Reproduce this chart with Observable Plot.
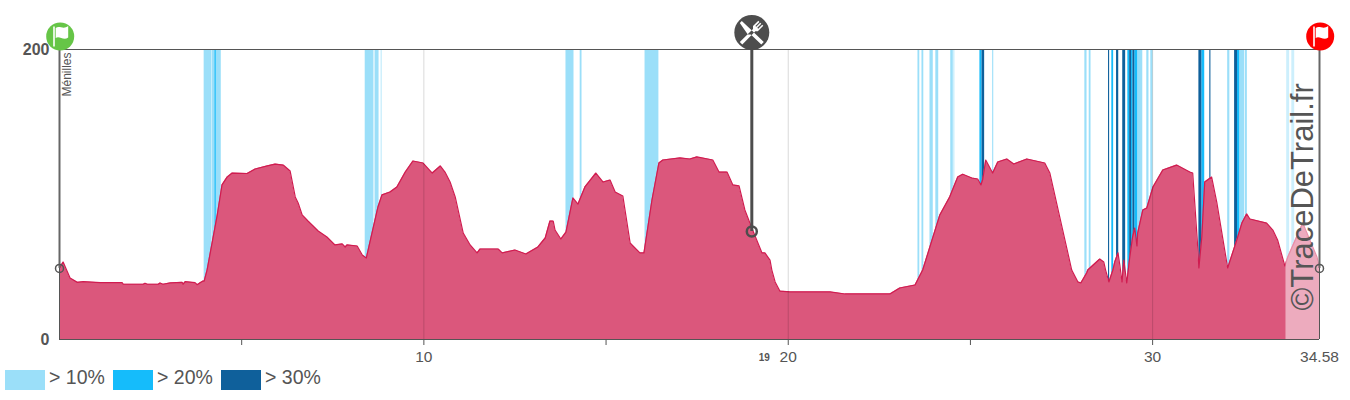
<!DOCTYPE html>
<html>
<head>
<meta charset="utf-8">
<script src="https://cdn.jsdelivr.net/npm/d3@7"></script>
<script src="https://cdn.jsdelivr.net/npm/@observablehq/plot@0.6"></script>
<style>
html,body{margin:0;padding:0;background:#fff;}
#legend{position:relative;height:34px;width:1350px;font:19.5px "Liberation Sans",Arial,sans-serif;color:#555;}
#legend span{position:absolute;white-space:nowrap;}
#legend i{position:absolute;top:4px;width:40px;height:20px;display:block;}
svg{display:block;}
</style>
</head>
<body>
<div id="chart"></div>
<div id="legend"></div>
<script>
const km = [0,0.10,0.29,0.49,0.65,1.12,1.72,1.75,2.30,2.35,2.41,2.71,2.76,2.84,3.04,3.37,3.39,3.45,3.72,3.78,3.86,3.94,3.97,4.05,4.33,4.46,4.60,4.74,5.15,5.37,5.70,5.92,6.14,6.33,6.47,6.55,6.66,6.82,7.10,7.34,7.56,7.76,7.84,7.89,8.17,8.31,8.42,8.74,8.85,9.07,9.26,9.49,9.70,9.98,10.23,10.45,10.58,10.72,10.86,11.08,11.27,11.46,11.54,12.04,12.15,12.50,12.80,13.13,13.33,13.46,13.55,13.60,13.76,13.90,14.09,14.23,14.42,14.72,14.92,15.11,15.25,15.46,15.66,15.74,15.93,16.04,16.26,16.45,16.56,17.03,17.30,17.49,17.93,18.10,18.32,18.48,18.65,18.81,19.00,19.28,19.36,19.50,19.55,19.64,19.77,20.05,21.15,21.56,22.79,23.06,23.48,23.69,24.16,24.43,24.65,24.79,25.04,25.20,25.29,25.34,25.42,25.61,25.75,26.00,26.19,26.55,27.04,27.18,27.45,27.78,27.95,28.03,28.19,28.22,28.55,28.66,28.71,28.80,28.91,28.96,29.05,29.10,29.16,29.21,29.29,29.37,29.42,29.45,29.51,29.57,29.59,29.73,29.84,30.01,30.28,30.66,31.02,31.10,31.24,31.27,31.35,31.43,31.62,31.76,32.06,32.31,32.45,32.58,32.67,33.13,33.30,33.43,33.63,33.71,34.12,34.51,34.58];
const elevation = [49.3,53.4,42.4,39.4,39.9,39.2,39.2,38.1,38.1,38.8,38.1,38.1,39,38.1,39,39.4,38.1,39.9,39.2,37.8,39.2,40.3,40.3,47.9,85.9,106.6,112,114.8,114.5,117.6,119.7,121,120.3,116.2,98.3,94.1,85.9,81.7,74.8,70.7,65.2,65.9,63.8,65.2,64.5,58.3,56.2,91.4,99.7,101.7,105.2,115.5,123.1,121.7,114.8,119.7,115.5,108.6,98.3,73.4,65.2,59.7,62.4,62.4,59.7,61.7,59,63.8,70,81.7,81.7,75.5,69.3,74.1,97.6,93.4,105.2,114.8,108.6,110,101.7,99,66.6,64.5,59.7,59.7,96.2,121.7,123.8,125.2,124.5,125.9,123.8,115.5,115.5,106.6,105.9,89.3,76.9,59.7,59.7,54.8,47.9,39.7,33.4,32.8,32.8,31.4,31.4,35.5,37.6,47.9,85.9,98.3,112,114,111.4,110.7,106.6,110.7,123.8,114.8,122.4,124.5,121,124.5,121.7,114.8,84.5,47.9,39.7,39,45.9,47.9,55.5,53.4,47.9,39.7,47.9,53.4,59.7,51.4,39.7,54.8,39,56.2,65.2,70.7,76.9,64.5,73.4,89.3,90.7,105.2,116.9,120.3,115.5,114.8,63.1,49.3,70.7,108.6,112,94.8,49.3,68.6,80.3,86.6,83.1,80.3,75.5,68.6,50.7,56.9,80.3,56.9,49.3];
const over10 = [[3.97,4.18],[4.19,4.44],[8.39,8.63],[8.66,8.77],[8.83,8.85],[13.90,14.12],[14.29,14.34],[16.07,16.45],[23.56,23.61],[23.67,23.72],[23.89,23.98],[24.05,24.13],[24.46,24.53],[24.55,24.57],[25.61,25.64],[28.14,28.20],[28.26,28.31],[29.59,29.73],[29.84,29.90],[29.95,30.01],[32.06,32.12],[32.39,32.53],[32.55,32.60],[33.68,33.76],[33.82,33.90]];
const over20 = [[4.27,4.30],[25.26,25.32],[28.88,28.93],[29.32,29.37],[29.42,29.46],[29.51,29.59],[31.35,31.43],[32.33,32.39]];
const over30 = [[25.32,25.39],[28.79,28.82],[29.01,29.07],[29.18,29.26],[29.37,29.42],[29.46,29.51],[31.27,31.35],[31.57,31.60],[32.25,32.33]];
const legendLabels = ["> 10%","> 20%","> 30%"];
const legendColors = ["#9bdff9","#15bcfb","#0f609b"];
const xTicks = [5,10,15,20,25,30];
const xLabels = {10:"10",20:"20",30:"30"};
const gridKm = [10,20,30];
const endKm = 34.58;
const tailStartKm = 33.66;
const refuelKm = 19;
const refuelElevation = 74.5;
const startEndElevation = 49;
const startName = "Ménilles";
const watermark = "©TraceDeTrail.fr";

const profile = km.map((k,i)=>({km:k,ele:elevation[i]}));
const greyDark = "#555";

const flag = {draw(c,size){const s=Math.sqrt(size/Math.PI)/14;
  c.moveTo(-7*s,-10*s);c.lineTo(-5.4*s,-10*s);c.lineTo(-5.4*s,10*s);c.lineTo(-7*s,10*s);c.closePath();
  c.moveTo(-4.5*s,-8.5*s);c.bezierCurveTo(-1*s,-11.5*s,3*s,-6.5*s,8*s,-10.5*s);
  c.lineTo(8*s,1*s);c.bezierCurveTo(3*s,4.5*s,-1*s,-1.5*s,-4.5*s,1.5*s);c.closePath();}};
function poly(c,s,pts){pts.forEach((p,i)=>i?c.lineTo(p[0]*s,p[1]*s):c.moveTo(p[0]*s,p[1]*s));c.closePath();}
const cutlery = {draw(c,size){const s=Math.sqrt(size/Math.PI)/17.5;
  poly(c,s,[[-12,-9.5],[-10,-11.5],[-1.5,-3.5],[12,9.5],[9.5,12],[-1,2],[-4,2]]);
  poly(c,s,[[-12,9.5],[-9.5,12],[3.5,-1.2],[6,-1.2],[11.5,-6.7],[10.4,-7.8],[6.4,-3.8],[5.5,-4.7],[9.5,-8.7],[8.4,-9.8],[4.4,-5.8],[3.6,-6.6],[7.6,-10.6],[6.5,-11.7],[1.2,-6.4],[1.2,-3.4]]);
}};

const chart = Plot.plot({
  width:1350, height:366,
  marginLeft:59, marginRight:31, marginTop:49, marginBottom:27,
  style:{fontFamily:'"Liberation Sans",Arial,sans-serif',background:"#fff",overflow:"visible"},
  x:{domain:[0,endKm]},
  y:{domain:[0,200]},
  marks:[
    Plot.rect(over10,{x1:d=>d[0],x2:d=>d[1],y1:0,y2:200,fill:legendColors[0]}),
    Plot.rect(over20,{x1:d=>d[0],x2:d=>d[1],y1:0,y2:200,fill:legendColors[1]}),
    Plot.rect(over30,{x1:d=>d[0],x2:d=>d[1],y1:0,y2:200,fill:legendColors[2]}),
    Plot.areaY(profile,{x:"km",y:"ele",fill:"#db577c"}),
    Plot.line(profile,{x:"km",y:"ele",stroke:"#d01c50",strokeWidth:1.2}),
    Plot.rect([[tailStartKm,endKm]],{x1:d=>d[0],x2:d=>d[1],y1:0,y2:200,fill:"#fff",fillOpacity:0.5}),
    Plot.ruleX(gridKm,{y1:0,y2:200,stroke:"#000",strokeOpacity:0.15,strokeWidth:1}),
    Plot.ruleY([0,200],{stroke:greyDark,strokeWidth:1}),
    Plot.ruleX([0,endKm],{y1:0,y2:200,stroke:greyDark,strokeWidth:1}),
    Plot.ruleX([0,endKm],{y1:startEndElevation,y2:200,stroke:"#666",strokeWidth:2}),
    Plot.ruleX([refuelKm],{y1:refuelElevation,y2:200,stroke:"#4d4d4d",strokeWidth:3}),
    Plot.dot([[0,startEndElevation],[endKm,startEndElevation]],{x:d=>d[0],y:d=>d[1],r:4,fill:"none",stroke:greyDark,strokeWidth:1.5}),
    Plot.dot([[refuelKm,refuelElevation]],{x:d=>d[0],y:d=>d[1],r:5,fill:"none",stroke:"#4d4d4d",strokeWidth:2.5}),
    Plot.axisX({ticks:xTicks,tickSize:6,tickPadding:5,label:null,fontSize:15.5,stroke:greyDark,fill:greyDark,tickFormat:d=>xLabels[d]||""}),
    Plot.axisX({ticks:[endKm],tickSize:0,tickPadding:11,label:null,fontSize:15.5,fill:greyDark,tickFormat:()=>String(endKm)}),
    Plot.axisY({ticks:[0,200],tickSize:0,tickPadding:10,label:null,fontSize:16,fontWeight:"bold",fill:greyDark,tickFormat:d=>String(d)}),
    Plot.text(["19"],{x:refuelKm,y:0,dx:12.5,dy:18,text:d=>d,fontSize:10,fontWeight:"bold",fill:greyDark}),
    Plot.text([startName],{x:0,y:200,dx:8,dy:3,text:d=>d,rotate:-90,textAnchor:"end",fontSize:12,fill:greyDark}),
    Plot.text([watermark],{x:34.13,y:20,text:d=>d,rotate:-90,textAnchor:"start",fontSize:31,fill:greyDark}),
    Plot.dot([0],{x:d=>d,y:200,dx:0.7,dy:-13,r:14,fill:"#66c547"}),
    Plot.dot([endKm],{x:d=>d,y:200,dx:0.7,dy:-13,r:14,fill:"#ff0000"}),
    Plot.dot([0],{x:d=>d,y:200,dx:0.7,dy:-13,r:14,fill:"#fff",symbol:flag}),
    Plot.dot([endKm],{x:d=>d,y:200,dx:0.7,dy:-13,r:14,fill:"#fff",symbol:flag}),
    Plot.dot([refuelKm],{x:d=>d,y:200,dy:-17,r:17.5,fill:"#4d4d4d"}),
    Plot.dot([refuelKm],{x:d=>d,y:200,dy:-17,r:17.5,fill:"#fff",symbol:cutlery})
  ]
});
document.getElementById("chart").appendChild(chart);

const lg = document.getElementById("legend");
const swatchLeft = [5,113,221];
legendLabels.forEach((t,i)=>{
  const sw=document.createElement("i");
  sw.style.left=swatchLeft[i]+"px"; sw.style.background=legendColors[i];
  lg.appendChild(sw);
  const sp=document.createElement("span");
  sp.style.left=(swatchLeft[i]+44)+"px"; sp.style.top="0px"; sp.textContent=t;
  lg.appendChild(sp);
});
</script>
</body>
</html>
